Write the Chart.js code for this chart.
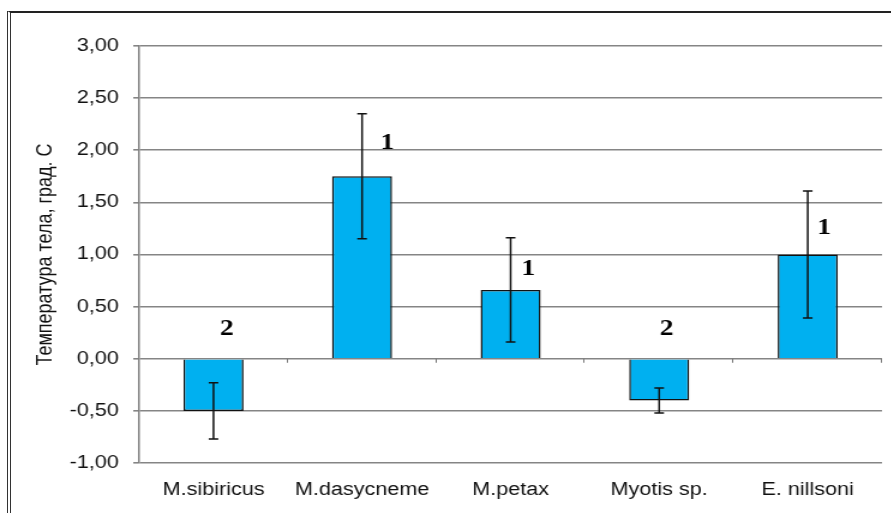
<!DOCTYPE html>
<html>
<head>
<meta charset="utf-8">
<script src="https://cdn.jsdelivr.net/npm/chart.js@4/dist/chart.umd.min.js"></script>
<style>
    body { margin: 0; background: #fff; }
    #wrap { position: relative; width: 891px; height: 513px; overflow: hidden; }
    /* the source picture is stretched sideways, so the canvas is too */
    #myChart { position: absolute; left: 0; top: 0; transform: scaleX(1.2); transform-origin: 0 0; }
    #frame { position: absolute; left: 7px; top: 11px; width: 900px; height: 520px;
             border-top: 2px solid #222; border-left: 4px double #333; }
</style>
</head>
<body>
<div id="wrap">
    <canvas id="myChart" width="743" height="513"></canvas>
    <div id="frame"></div>
</div>
<script>
// data
var species = ['M.sibiricus', 'M.dasycneme', 'M.petax', 'Myotis sp.', 'E. nillsoni'];
var meanTemp = [-0.50, 1.75, 0.66, -0.40, 1.00];
var errTemp = [0.27, 0.60, 0.50, 0.12, 0.61];
var groupMark = ['2', '1', '1', '2', '1'];
var groupMarkY = [0.28, 2.07, 0.86, 0.28, 1.25];
var yTicks = [-1, -0.5, 0, 0.5, 1, 1.5, 2, 2.5, 3];

// small shift of the group numbers to the right of the bar centre (in category widths)
var markShift = [0.09, 0.17, 0.12, 0.05, 0.11];

var errorBars = {
    id: 'errorBars',
    afterDatasetsDraw: function(chart) {
        var ctx = chart.ctx;
        var yScale = chart.scales.y;
        var xScale = chart.scales.x;
        var meta = chart.getDatasetMeta(0);
        var catW = (xScale.right - xScale.left) / species.length;

        ctx.save();
        ctx.strokeStyle = '#111';
        ctx.lineWidth = 1.5;
        meta.data.forEach(function(bar, i) {
            var yHi = yScale.getPixelForValue(meanTemp[i] + errTemp[i]);
            var yLo = yScale.getPixelForValue(meanTemp[i] - errTemp[i]);
            ctx.beginPath();
            ctx.moveTo(bar.x, yHi); ctx.lineTo(bar.x, yLo);
            ctx.moveTo(bar.x - 4, yHi); ctx.lineTo(bar.x + 4, yHi);
            ctx.moveTo(bar.x - 4, yLo); ctx.lineTo(bar.x + 4, yLo);
            ctx.stroke();
        });

        // category ticks on the zero line
        var y0 = yScale.getPixelForValue(0);
        ctx.strokeStyle = '#777';
        ctx.lineWidth = 1;
        for (var k = 1; k <= species.length; k++) {
            var xb = Math.round(xScale.left + catW * k) - 0.5;
            ctx.beginPath();
            ctx.moveTo(xb, y0); ctx.lineTo(xb, y0 + 4);
            ctx.stroke();
        }

        // group numbers
        ctx.fillStyle = '#000';
        ctx.font = 'bold 23px "Liberation Serif", "Times New Roman", serif';
        ctx.textAlign = 'center';
        ctx.textBaseline = 'middle';
        groupMark.forEach(function(t, i) {
            var x = xScale.getPixelForValue(i) + markShift[i] * catW;
            ctx.fillText(t, x, yScale.getPixelForValue(groupMarkY[i]));
        });
        ctx.restore();
    }
};

const ctx = document.getElementById('myChart').getContext('2d');
var myChart = new Chart(ctx, {
    type: 'bar',
    data: {
        labels: species,
        datasets: [{
            data: meanTemp,
            backgroundColor: '#00B0F0',
            borderColor: '#111',
            borderWidth: 1.5,
            barPercentage: 0.404,
            categoryPercentage: 1
        }]
    },
    options: {
        responsive: false,
        animation: false,
        devicePixelRatio: 1,
        layout: { padding: { left: 0, top: 46, right: 8, bottom: 0 } },
        plugins: {
            legend: { display: false },
            tooltip: { enabled: false }
        },
        scales: {
            x: {
                grid: { display: false },
                border: { display: false },
                ticks: {
                    color: '#111',
                    padding: 8,
                    font: { family: '"Liberation Sans", Arial, sans-serif', size: 18 }
                },
                afterFit: function(scale) { scale.height = 50; }
            },
            y: {
                min: -1,
                max: 3,
                afterBuildTicks: function(scale) {
                    scale.ticks = yTicks.map(function(v) { return { value: v }; });
                },
                grid: { color: '#858585', lineWidth: 1.6, tickLength: 5 },
                border: { display: true, color: '#808080', width: 1.5 },
                ticks: {
                    color: '#111',
                    padding: 12,
                    font: { family: '"Liberation Sans", Arial, sans-serif', size: 18 }, 
                    callback: function(v) { return v.toFixed(2).replace('.', ','); }
                },
                title: {
                    display: true,
                    text: 'Температура тела, град. С',
                    color: '#111',
                    padding: { top: 27, bottom: 0 },
                    font: { family: '"Liberation Sans", Arial, sans-serif', size: 18 }
                },
                afterFit: function(scale) { scale.width = 116; }
            }
        }
    },
    plugins: [errorBars]
});
</script>
</body>
</html>
